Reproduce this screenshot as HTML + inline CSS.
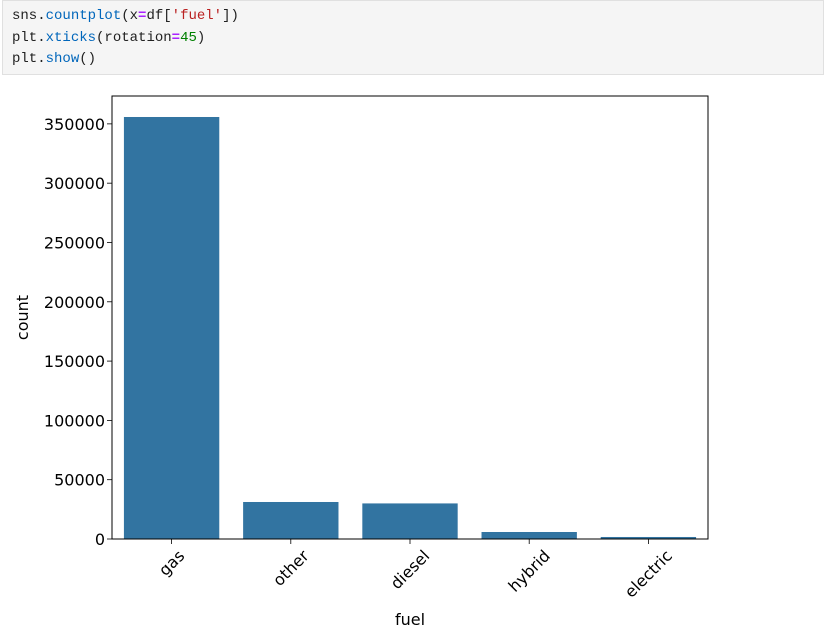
<!DOCTYPE html>
<html><head><meta charset="utf-8"><style>
body{margin:0;background:#fff;width:827px;height:640px;overflow:hidden;font-family:"DejaVu Sans",sans-serif}
#cell{position:absolute;left:2px;top:0;width:822px;height:75px;background:#f5f5f5;border:1px solid #e0e0e0;box-sizing:border-box}
#cell pre{margin:0;position:absolute;left:9px;top:5px;font:14px/21.5px "Liberation Mono",monospace;color:#212121}
.f{color:#0066bb}.o{color:#aa22ff;font-weight:bold}.s{color:#ba2121}.n{color:#008000}
</style></head><body>
<div id="cell"><pre>sns.<span class="f">countplot</span>(x<span class="o">=</span>df[<span class="s">'fuel'</span>])
plt.<span class="f">xticks</span>(rotation<span class="o">=</span><span class="n">45</span>)
plt.<span class="f">show</span>()</pre></div>
<svg id="chart" width="827" height="640" style="position:absolute;left:0;top:0;font-family:'DejaVu Sans',sans-serif"></svg>
<script>
const categories=["gas","other","diesel","hybrid","electric"];
const counts=[355800,31200,30000,5900,1700];
const yTicks=[0,50000,100000,150000,200000,250000,300000,350000];
const L=112,R=708,T=96,B=539,yMax=373500;
const svg=document.getElementById('chart');const NS='http://www.w3.org/2000/svg';
function y(v){return B-(v/yMax)*(B-T);}
const slot=(R-L)/categories.length;
function xc(i){return L+slot*(i+0.5);}
function mk(t,a,p){const e=document.createElementNS(NS,t);for(const k in a)e.setAttribute(k,a[k]);(p||svg).appendChild(e);return e;}
categories.forEach((c,i)=>{
 const r=mk('rect',{x:xc(i)-slot*0.4,y:y(counts[i]),width:slot*0.8,height:B-y(counts[i]),fill:'#3274a1'});
 
 
 mk('line',{x1:xc(i),x2:xc(i),y1:B,y2:B+5,stroke:'#000','stroke-width':0.8});
 const t=mk('text',{x:0,y:0,'font-size':16,'text-anchor':'middle','dominant-baseline':'central',fill:'#000'});
 t.textContent=c;
 
 
 const w=t.getComputedTextLength();
 const half=(w+14)*0.707/2;
 t.setAttribute('transform',`translate(${xc(i)},${B+9+half}) rotate(-45)`);
});
yTicks.forEach(v=>{
 mk('line',{x1:L-5,x2:L,y1:y(v),y2:y(v),stroke:'#000','stroke-width':0.8});
 const t=mk('text',{x:L-7,y:y(v)+6,'font-size':16,'text-anchor':'end',fill:'#000'});
 t.textContent=v;
 
 
});
const f=mk('rect',{x:L,y:T,width:R-L,height:B-T,fill:'none',stroke:'#000','stroke-width':1});


const xl=mk('text',{x:(L+R)/2,y:625,'font-size':16,'text-anchor':'middle'});xl.textContent='fuel';


const yl=mk('text',{x:0,y:0,'font-size':16,'text-anchor':'middle',transform:`translate(28,${(T+B)/2}) rotate(-90)`});yl.textContent='count';


</script>
</body></html>
